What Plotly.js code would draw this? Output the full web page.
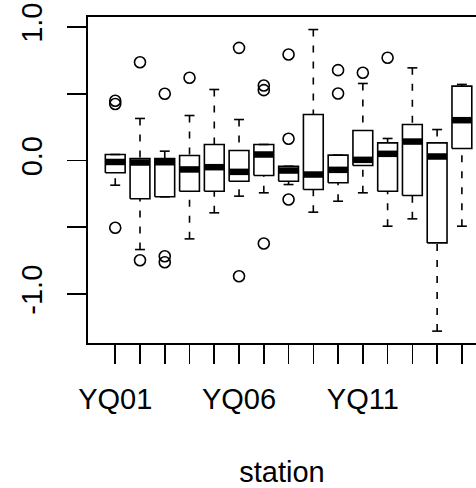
<!DOCTYPE html>
<html>
<head>
<meta charset="utf-8">
<script src="https://cdn.plot.ly/plotly-3.0.1.min.js"></script>
<style>html,body{margin:0;padding:0;background:#fff;}</style>
</head>
<body>
<div id="chart" style="width:476px;height:488px;"></div>
<script>
// ---- data ----
var stations = ['YQ01','YQ02','YQ03','YQ04','YQ05','YQ06','YQ07','YQ08','YQ09','YQ10','YQ11','YQ12','YQ13','YQ14','YQ15'];
var lowerWhisker = [-0.185,-0.667,-0.272,-0.587,-0.392,-0.267,-0.242,-0.180,-0.387,-0.305,-0.242,-0.492,-0.437,-1.278,-0.492];
var q1Values     = [-0.092,-0.287,-0.272,-0.230,-0.230,-0.155,-0.112,-0.155,-0.217,-0.167,-0.037,-0.230,-0.262,-0.617, 0.090];
var medianValues = [-0.011,-0.015,-0.013,-0.067,-0.050,-0.085, 0.045,-0.075,-0.105,-0.070, 0.005, 0.050, 0.142, 0.030, 0.302];
var q3Values     = [ 0.045, 0.015, 0.015, 0.037, 0.120, 0.075, 0.120,-0.043, 0.345, 0.040, 0.225, 0.132, 0.270, 0.132, 0.557];
var upperWhisker = [ 0.045, 0.315, 0.070, 0.337, 0.532, 0.307, 0.120,-0.043, 0.981, 0.040, 0.577, 0.165, 0.694, 0.232, 0.570];
var outlierStation = ['YQ01','YQ01','YQ01','YQ02','YQ02','YQ03','YQ03','YQ03','YQ04','YQ06','YQ06','YQ07','YQ07','YQ07','YQ08','YQ08','YQ08','YQ10','YQ10','YQ11','YQ12'];
var outlierValue   = [0.448, 0.423,-0.504, 0.736,-0.747, 0.500,-0.717,-0.762, 0.620, 0.844,-0.867, 0.562, 0.527,-0.622, 0.794, 0.163,-0.292, 0.677, 0.502, 0.657, 0.770];
var shownTickLabels = ['YQ01','YQ06','YQ11'];
var yTickValues = [-1, -0.5, 0, 0.5, 1];
var yTickLabels = ['-1.0', '', '0.0', '', '1.0'];

// ---- build geometry through the axis scales ----
var boxHalf = 0.4, capHalf = 0.2;
var wx = [], wy = [], cx = [], cy = [], bx = [], by = [], mx = [], my = [];
stations.forEach(function(s, i) {
  var p = i + 1;
  wx.push(p, p, null, p, p, null);
  wy.push(upperWhisker[i], q3Values[i], null, lowerWhisker[i], q1Values[i], null);
  cx.push(p - capHalf, p + capHalf, null, p - capHalf, p + capHalf, null);
  cy.push(upperWhisker[i], upperWhisker[i], null, lowerWhisker[i], lowerWhisker[i], null);
  bx.push(p - boxHalf, p + boxHalf, p + boxHalf, p - boxHalf, p - boxHalf, null);
  by.push(q1Values[i], q1Values[i], q3Values[i], q3Values[i], q1Values[i], null);
  mx.push(p - boxHalf, p + boxHalf, null);
  my.push(medianValues[i], medianValues[i], null);
});
var ox = outlierStation.map(function(s) { return stations.indexOf(s) + 1; });

var lw = 1.6;
var traces = [
  {x: wx, y: wy, type: 'scatter', mode: 'lines', hoverinfo: 'skip',
   line: {color: '#000', width: lw, dash: '7px,9px'}},
  {x: cx, y: cy, type: 'scatter', mode: 'lines', hoverinfo: 'skip',
   line: {color: '#000', width: lw}},
  {x: bx, y: by, type: 'scatter', mode: 'lines', hoverinfo: 'skip',
   line: {color: '#000', width: lw}},
  {x: mx, y: my, type: 'scatter', mode: 'lines', hoverinfo: 'skip',
   line: {color: '#000', width: 6.5}},
  {x: ox, y: outlierValue, type: 'scatter', mode: 'markers', hoverinfo: 'skip',
   marker: {symbol: 'circle-open', size: 11, color: '#000', line: {color: '#000', width: 1.6}}}
];

var font = 'Liberation Sans, Arial, Helvetica, sans-serif';
var layout = {
  width: 476, height: 488,
  margin: {l: 88, r: 0, t: 17, b: 145, pad: 0},
  paper_bgcolor: '#fff', plot_bgcolor: '#fff',
  showlegend: false,
  font: {family: font, size: 29, color: '#000'},
  xaxis: {
    range: [-0.1, 15.57],
    tickvals: stations.map(function(s, i) { return i + 1; }),
    ticktext: stations.map(function(s) { return shownTickLabels.indexOf(s) >= 0 ? s : ''; }),
    ticks: 'outside', ticklen: 19, tickwidth: lw, tickcolor: '#000',
    showline: true, linecolor: '#000', linewidth: lw, mirror: true,
    showgrid: false, zeroline: false,
    tickfont: {family: font, size: 29, color: '#000'},
    ticklabelstandoff: 11,
    title: {text: 'station', font: {family: font, size: 29, color: '#000'}, standoff: 48}
  },
  yaxis: {
    range: [-1.367, 1.075],
    tickvals: yTickValues, ticktext: yTickLabels,
    tickangle: -90,
    ticks: 'outside', ticklen: 19, tickwidth: lw, tickcolor: '#000',
    showline: true, linecolor: '#000', linewidth: lw, mirror: false,
    showgrid: false, zeroline: false,
    tickfont: {family: font, size: 29, color: '#000'},
    ticklabelstandoff: 14
  }
};
Plotly.newPlot('chart', traces, layout, {staticPlot: true, displayModeBar: false});
</script>
</body>
</html>
